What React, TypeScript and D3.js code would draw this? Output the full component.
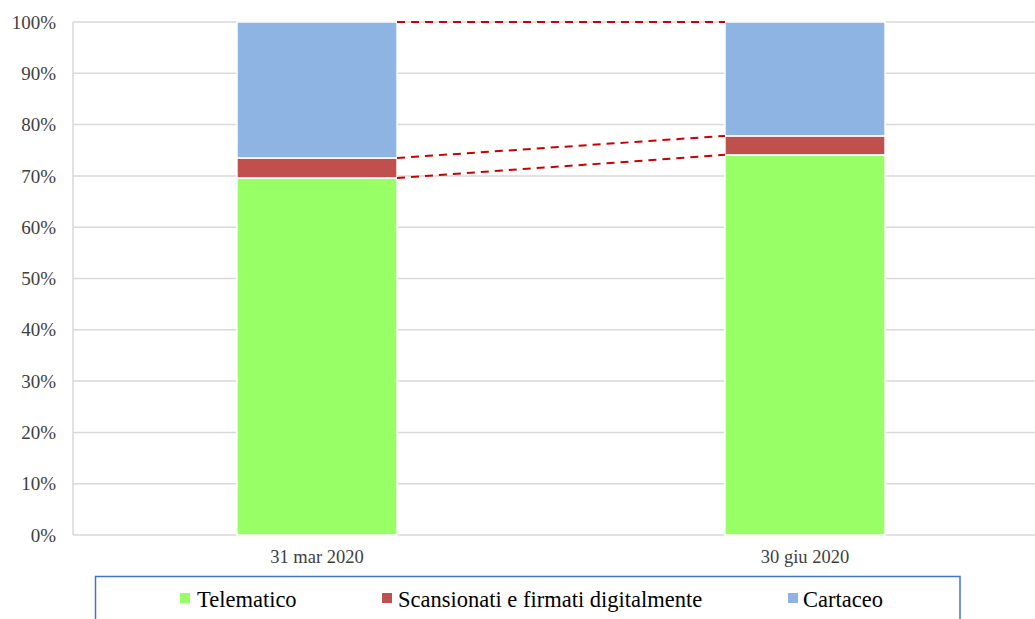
import React from "react";
import * as d3 from "d3";

const categories = ["31 mar 2020", "30 giu 2020"];
const seriesNames = ["Telematico", "Scansionati e firmati digitalmente", "Cartaceo"];
const telematico = [69.6, 74.1];
const scansionati = [3.9, 3.7];
const cartaceo = [26.5, 22.2];
const yTicks = [0, 10, 20, 30, 40, 50, 60, 70, 80, 90, 100];
const colors = ["#99ff66", "#c0504d", "#8eb4e3"];

const W = 1035;
const H = 619;
const margin = { left: 73, top: 22, right: -14, bottom: 84 };
const FONT = "'Liberation Serif', 'Times New Roman', serif";

export default function App() {
  const plotRight = W - margin.right;
  const plotBottom = H - margin.bottom;
  const x = d3.scaleBand<string>().domain(categories).range([margin.left, plotRight]).paddingInner(0.672).paddingOuter(0.336);
  const y = d3.scaleLinear().domain([0, 100]).range([plotBottom, margin.top]);

  const rows = categories.map((c, i) => ({ cat: c, t: telematico[i], s: scansionati[i], c2: cartaceo[i] }));
  const stack = d3.stack<any>().keys(["t", "s", "c2"]);
  const stacked = stack(rows);

  const bw = x.bandwidth();
  const x0 = x(categories[0])! + bw;
  const x1 = x(categories[1])!;
  const levels = stacked.map((layer) => [layer[0][1], layer[1][1]]);

  const legendItems = [
    { sx: 180, tx: 197 },
    { sx: 382, tx: 398 },
    { sx: 788, tx: 803 },
  ];

  return (
    <svg width={W} height={H} style={{ position: "absolute", left: 0, top: 0, background: "#fff" }}>
      {yTicks.map((t) => (
        <g key={t}>
          <line x1={margin.left} x2={plotRight} y1={y(t)} y2={y(t)} stroke="#d9d9d9" strokeWidth={1.5} />
          <text x={56} y={y(t)} dy="0.35em" textAnchor="end" fontFamily={FONT} fontSize={19} fill="#404040">
            {t}%
          </text>
        </g>
      ))}
      <line x1={margin.left} x2={margin.left} y1={margin.top} y2={plotBottom} stroke="#d9d9d9" strokeWidth={1.5} />
      {stacked.map((layer, li) => (
        <g key={li}>
          {layer.map((d, i) => (
            <rect
              key={i}
              x={x(categories[i])}
              width={bw}
              y={y(d[1])}
              height={y(d[0]) - y(d[1])}
              fill={colors[li]}
              stroke="#fff"
              strokeWidth={1.5}
            />
          ))}
        </g>
      ))}
      {levels.map((lv, i) => (
        <line
          key={i}
          x1={x0}
          x2={x1}
          y1={y(lv[0])}
          y2={y(lv[1])}
          stroke="#cc0000"
          strokeWidth={2}
          strokeDasharray="8,6"
        />
      ))}
      {categories.map((c) => (
        <text key={c} x={x(c)! + bw / 2} y={557} dy="0.35em" textAnchor="middle" fontFamily={FONT} fontSize={18.5} fill="#404040">
          {c}
        </text>
      ))}
      <rect x={95.5} y={576.5} width={864.5} height={60} fill="none" stroke="#4472c4" strokeWidth={1.5} />
      {seriesNames.map((n, i) => (
        <g key={n}>
          <rect x={legendItems[i].sx} y={593} width={10} height={10} fill={colors[i]} />
          <text x={legendItems[i].tx} y={599} dy="0.35em" fontFamily={FONT} fontSize={22.5} fill="#000">
            {n}
          </text>
        </g>
      ))}
    </svg>
  );
}
